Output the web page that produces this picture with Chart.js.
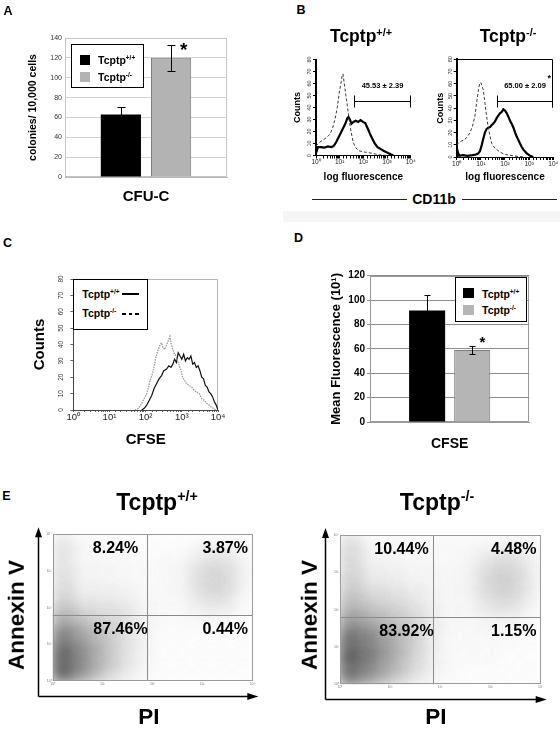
<!DOCTYPE html>
<html><head><meta charset="utf-8">
<script src="https://cdn.jsdelivr.net/npm/chart.js@4.4.1/dist/chart.umd.min.js"></script>
<style>
html,body{margin:0;padding:0;background:#fff;overflow:hidden;}
#root{position:relative;width:560px;height:729px;overflow:hidden;font-family:"Liberation Sans",Arial,Helvetica,sans-serif;color:#000;background:#fff;}
#root canvas{position:absolute;}
.t{position:absolute;transform:translate(-50%,-50%);white-space:nowrap;line-height:1;font-weight:bold;}
.t.r{transform:translate(-50%,-50%) rotate(-90deg);}
sup{font-size:62%;vertical-align:0.62em;line-height:0;}
.abs{position:absolute;}
.lt{position:absolute;font-weight:bold;line-height:1;white-space:nowrap;transform:translateY(-50%);}
</style></head><body><div id="root"></div>
<script>
// ---------------- DATA ----------------
const genotypeName = 'Tcptp';
const genotypeSup = ['+/+', '-/-'];

// A: CFU-C colonies / 10,000 cells
const cfuCategories = ['CFU-C'];
const cfuValues = [63, 120];
const cfuErrors = [8, 13];
const cfuTicks = [0, 20, 40, 60, 80, 100, 120, 140];

// B: CD11b histograms (x in decades of log fluorescence, y = counts)
const logTickLabels = ['10\u2070', '10\u00B9', '10\u00B2', '10\u00B3', '10\u2074'];
const countTicks = [0, 10, 20, 30, 40, 50, 60, 70, 80];
const cd11bWtLogX = [0, 0.08, 0.2, 0.35, 0.5, 0.65, 0.75, 0.85, 0.95, 1.05, 1.15, 1.25, 1.32, 1.37, 1.43, 1.5, 1.58, 1.68, 1.78, 1.88, 1.98, 2.08, 2.15, 2.22, 2.3, 2.38, 2.48, 2.6, 2.72, 2.85, 3.0, 3.15, 3.27];
const cd11bWtCounts = [2, 7, 7, 6.5, 7.5, 7, 8, 11, 15, 19, 23, 27, 31, 32, 30, 26.5, 28, 29, 28, 29.5, 28, 27, 24, 21, 17, 14, 10, 7, 5.5, 4, 2.5, 1, 0];
const cd11bWtIsoLogX = [0, 0.15, 0.3, 0.45, 0.6, 0.7, 0.8, 0.9, 0.98, 1.05, 1.1, 1.14, 1.18, 1.25, 1.32, 1.4, 1.48, 1.56, 1.65, 1.8, 2.0, 2.2, 2.45, 2.7, 3.0];
const cd11bWtIsoCounts = [8, 11, 13, 15, 18, 23, 30, 40, 52, 60, 66, 68, 62, 52, 42, 30, 20, 12, 7, 4, 3, 2.5, 1.5, 0.5, 0];
const cd11bKoLogX = [0, 0.03, 0.1, 0.25, 0.45, 0.65, 0.8, 0.9, 0.97, 1.04, 1.1, 1.17, 1.24, 1.31, 1.38, 1.44, 1.5, 1.58, 1.66, 1.73, 1.8, 1.87, 1.93, 2.0, 2.07, 2.14, 2.2, 2.28, 2.35, 2.42, 2.48, 2.55, 2.62, 2.7, 2.76, 2.83, 2.9, 3.04, 3.17];
const cd11bKoCounts = [8, 5, 1, 1.5, 1, 1.5, 2, 3, 5, 10, 15, 20, 23, 24, 24.5, 26, 27, 29, 32, 34, 36, 37, 39, 38, 36, 33, 30, 27, 24, 20, 17, 14, 11, 8, 6, 4.5, 3, 1, 0];
const cd11bKoIsoLogX = [0, 0.1, 0.2, 0.3, 0.42, 0.55, 0.65, 0.75, 0.83, 0.9, 0.95, 1.0, 1.05, 1.1, 1.17, 1.24, 1.3, 1.38, 1.45, 1.55, 1.66, 1.8, 2.0, 2.2, 2.5, 2.8];
const cd11bKoIsoCounts = [10, 12, 13, 14, 16, 20, 25, 33, 45, 55, 60, 61, 58, 55, 44, 33, 25, 17, 11, 8, 6, 4, 2, 1.5, 0.5, 0];
const cd11bGateStartLog = [1.62, 1.66];
const cd11bGateCount = [45.5, 46];
const cd11bGateLabels = ['45.53 \u00B1 2.39', '65.00 \u00B1 2.09'];

// C: CFSE histograms
const cfseWtLogX = [1.89, 1.96, 2.03, 2.1, 2.17, 2.23, 2.3, 2.37, 2.44, 2.5, 2.58, 2.64, 2.7, 2.75, 2.8, 2.85, 2.9, 2.95, 3.0, 3.05, 3.1, 3.15, 3.2, 3.25, 3.3, 3.35, 3.4, 3.45, 3.5, 3.55, 3.6, 3.65, 3.7, 3.75, 3.8, 3.85, 3.9, 3.95, 4.0];
const cfseWtCounts = [0, 1, 3, 6, 9, 13, 16, 19, 21, 24, 25, 27, 26, 28, 31, 29, 35, 33, 31, 34, 30, 32, 31, 33, 28, 29, 26, 27, 24, 20, 19, 15, 14, 11, 10, 8, 5, 3, 0];
const cfseKoLogX = [1.7, 1.8, 1.89, 1.96, 2.03, 2.08, 2.12, 2.17, 2.21, 2.25, 2.28, 2.32, 2.35, 2.4, 2.44, 2.48, 2.53, 2.58, 2.62, 2.67, 2.71, 2.75, 2.8, 2.84, 2.88, 2.93, 2.98, 3.02, 3.08, 3.13, 3.2, 3.27, 3.34, 3.41, 3.48, 3.55, 3.62, 3.69, 3.76, 3.82, 3.88, 3.93];
const cfseKoCounts = [0, 1, 4, 7, 10, 14, 18, 21, 24, 28, 32, 35, 37, 40, 41, 38, 37, 40, 42, 45, 40, 37, 34, 33, 30, 27, 24, 20, 18, 16, 15, 14, 12, 11, 10, 7, 6, 4, 3, 1.6, 1, 0];

// D: CFSE mean fluorescence (10^1)
const cfseCategories = ['CFSE'];
const cfseMeans = [91.5, 59];
const cfseErrors = [13, 3];
const cfseTicks = [0, 20, 40, 60, 80, 100, 120];

// E: Annexin V / PI quadrants
const annexinWtPct = ['8.24%', '3.87%', '87.46%', '0.44%'];   // UL, UR, LL, LR
const annexinKoPct = ['10.44%', '4.48%', '83.92%', '1.15%'];
const piGateLog = [1.88, 1.86];
const annexinGateLog = [1.8, 1.81];
// relative event density, rows = Annexin V decades 4->0 (0.5 each), cols = PI decades 0->4 (0.4 each)
const annexinWtDensity = [
  [0.10,0.03,0.03,0.03,0.02,0.02,0.02,0.03,0.04,0.03],
  [0.10,0.04,0.04,0.03,0.03,0.03,0.04,0.10,0.12,0.05],
  [0.12,0.05,0.05,0.04,0.03,0.03,0.05,0.14,0.16,0.06],
  [0.16,0.08,0.08,0.07,0.04,0.03,0.04,0.10,0.12,0.04],
  [0.30,0.18,0.14,0.12,0.05,0.03,0.03,0.04,0.04,0.02],
  [0.55,0.35,0.22,0.12,0.05,0.02,0.02,0.02,0.02,0.02],
  [0.70,0.45,0.26,0.12,0.05,0.02,0.02,0.02,0.02,0.02],
  [0.75,0.45,0.22,0.10,0.04,0.02,0.02,0.02,0.02,0.02]
];
const annexinKoDensity = [
  [0.14,0.04,0.04,0.03,0.03,0.03,0.03,0.04,0.05,0.04],
  [0.15,0.06,0.05,0.04,0.04,0.03,0.05,0.12,0.14,0.07],
  [0.18,0.09,0.08,0.06,0.05,0.04,0.06,0.16,0.18,0.08],
  [0.25,0.16,0.14,0.10,0.06,0.04,0.05,0.12,0.14,0.06],
  [0.40,0.30,0.22,0.16,0.08,0.04,0.04,0.05,0.05,0.03],
  [0.65,0.50,0.35,0.20,0.08,0.03,0.03,0.03,0.03,0.02],
  [0.75,0.55,0.35,0.18,0.07,0.03,0.03,0.03,0.02,0.02],
  [0.65,0.45,0.28,0.14,0.06,0.03,0.02,0.02,0.02,0.02]
];

// ---------------- HELPERS ----------------
const FONT = '"Liberation Sans", Arial, Helvetica, sans-serif';
Chart.defaults.font.family = FONT;
Chart.defaults.color = '#000';
const root = document.getElementById('root');
const gen = i => genotypeName + '<sup>' + genotypeSup[i] + '</sup>';
const pts = (xs, ys) => xs.map((d, i) => ({x: Math.pow(10, d), y: ys[i]}));
function logLabel(v) { const l = Math.log10(v), r = Math.round(l); return Math.abs(l - r) < 1e-6 ? logTickLabels[r] : ''; }
function densityPts(grid) {
  const out = [];
  grid.forEach((row, ri) => row.forEach((v, ci) => out.push({x: Math.pow(10, 0.2 + 0.4 * ci), y: Math.pow(10, 3.75 - 0.5 * ri), v})));
  return out;
}

function mk(box, plot, yw, xh, cfg) {
  const cv = document.createElement('canvas');
  cv.width = box.w; cv.height = box.h;
  cv.style.left = box.x + 'px'; cv.style.top = box.y + 'px';
  root.appendChild(cv);
  const o = cfg.options;
  o.responsive = false; o.animation = false; o.devicePixelRatio = 1; o.events = [];
  o.layout = {autoPadding: false, padding: {left: plot.l - box.x - yw, top: plot.t - box.y, right: box.x + box.w - plot.r, bottom: box.y + box.h - plot.b - xh}};
  o.plugins = Object.assign({legend: {display: false}, tooltip: {enabled: false}}, o.plugins || {});
  o.scales.x.afterFit = s => { s.height = xh; };
  o.scales.y.afterFit = s => { s.width = yw; };
  return new Chart(cv, cfg);
}
function txt(html, x, y, size, rot, weight) {
  const d = document.createElement('div');
  d.className = 't' + (rot ? ' r' : '');
  d.innerHTML = html;
  d.style.left = x + 'px'; d.style.top = y + 'px'; d.style.fontSize = size + 'px';
  if (weight) d.style.fontWeight = weight;
  root.appendChild(d);
}
function rect(x, y, w, h, style) {
  const d = document.createElement('div');
  d.className = 'abs';
  Object.assign(d.style, {left: x + 'px', top: y + 'px', width: w + 'px', height: h + 'px', boxSizing: 'border-box'}, style || {});
  root.appendChild(d);
  return d;
}
function ltxt(html, x, y, size) {
  const d = document.createElement('div');
  d.className = 'lt'; d.innerHTML = html;
  d.style.left = x + 'px'; d.style.top = y + 'px'; d.style.fontSize = size + 'px';
  root.appendChild(d);
}

// ---------------- PLUGINS ----------------
const framePlugin = {
  id: 'frame',
  beforeDatasetsDraw(chart, args, o) {
    if (!o || !o.color) return;
    const {ctx, chartArea: a} = chart;
    const s = o.sides || 'tlrb';
    const L = Math.round(a.left) + 0.5, R = Math.round(a.right) - 0.5, T = Math.round(a.top) + 0.5, B = Math.round(a.bottom) - 0.5;
    ctx.save(); ctx.strokeStyle = o.color; ctx.lineWidth = 1; ctx.beginPath();
    if (s.includes('t')) { ctx.moveTo(L, T); ctx.lineTo(R, T); }
    if (s.includes('r')) { ctx.moveTo(R, T); ctx.lineTo(R, B); }
    if (s.includes('b')) { ctx.moveTo(L, B); ctx.lineTo(R, B); }
    if (s.includes('l')) { ctx.moveTo(L, T); ctx.lineTo(L, B); }
    ctx.stroke(); ctx.restore();
  }
};
const errPlugin = {
  id: 'errbars',
  afterDatasetsDraw(chart, args, o) {
    if (!o || !o.errors) return;
    const {ctx} = chart, y = chart.scales.y;
    ctx.save(); ctx.strokeStyle = '#000'; ctx.lineWidth = 1;
    chart.data.datasets.forEach((ds, i) => {
      const el = chart.getDatasetMeta(i).data[0];
      const v = ds.data[0], e = o.errors[i];
      const x = Math.round(el.x) + 0.5, yt = Math.round(y.getPixelForValue(v + e)) + 0.5, yb = Math.round(y.getPixelForValue(v - e)) + 0.5;
      ctx.beginPath();
      ctx.moveTo(x, yt); ctx.lineTo(x, yb);
      ctx.moveTo(x - o.cap, yt); ctx.lineTo(x + o.cap, yt);
      ctx.moveTo(x - o.cap, yb); ctx.lineTo(x + o.cap, yb);
      ctx.stroke();
    });
    if (o.star) {
      const i = o.star.index, el = chart.getDatasetMeta(i).data[0];
      const v = chart.data.datasets[i].data[0] + o.errors[i];
      ctx.fillStyle = '#000'; ctx.font = 'bold ' + o.star.size + 'px ' + FONT;
      ctx.textAlign = 'center'; ctx.textBaseline = 'middle';
      ctx.fillText('*', el.x + o.star.dx, y.getPixelForValue(v) + o.star.dy);
    }
    ctx.restore();
  }
};
const gatePlugin = {
  id: 'gate',
  afterDatasetsDraw(chart, args, o) {
    if (!o || o.label === undefined) return;
    const {ctx, chartArea: a} = chart, x = chart.scales.x, y = chart.scales.y;
    const x0 = Math.round(x.getPixelForValue(Math.pow(10, o.startLog))) + 0.5;
    const x1 = Math.round(x.getPixelForValue(Math.pow(10, o.endLog))) - 0.5;
    const yy = Math.round(y.getPixelForValue(o.count)) + 0.5;
    ctx.save(); ctx.strokeStyle = '#000'; ctx.lineWidth = 1; ctx.beginPath();
    ctx.moveTo(x0, yy); ctx.lineTo(x1, yy);
    ctx.moveTo(x0, yy - 6); ctx.lineTo(x0, yy + 6);
    ctx.moveTo(x1, yy - 6); ctx.lineTo(x1, yy + 6);
    if (o.box) { ctx.moveTo(a.left, Math.round(a.top) + 0.5); ctx.lineTo(x1, Math.round(a.top) + 0.5); ctx.lineTo(x1, yy + 6); }
    ctx.stroke();
    ctx.fillStyle = '#000'; ctx.font = 'bold 7.5px ' + FONT; ctx.textAlign = 'center'; ctx.textBaseline = 'middle';
    const lx = (x0 + x1) / 2, ly = yy - 15.5;
    ctx.fillText(o.label, lx, ly);
    if (o.star) {
      const w = ctx.measureText(o.label).width;
      ctx.font = 'bold 9px ' + FONT;
      ctx.fillText('*', lx + w / 2 + 3.5, ly - 7);
    }
    ctx.restore();
  }
};
const blurPlugin = {
  id: 'blurDensity',
  beforeDatasetDraw(chart, args, o) {
    if (!o || !o.px || args.index !== 0) return;
    chart.ctx.save(); chart.ctx.filter = 'blur(' + o.px + 'px)';
  },
  afterDatasetDraw(chart, args, o) {
    if (!o || !o.px || args.index !== 0) return;
    chart.ctx.restore();
  }
};
const quadPlugin = {
  id: 'quad',
  afterDatasetsDraw(chart, args, o) {
    if (!o || !o.labels) return;
    const {ctx, chartArea: a} = chart, x = chart.scales.x, y = chart.scales.y;
    const gx = Math.round(x.getPixelForValue(Math.pow(10, o.xGateLog))) + 0.5;
    const gy = Math.round(y.getPixelForValue(Math.pow(10, o.yGateLog))) + 0.5;
    ctx.save();
    ctx.strokeStyle = '#8a8a8a'; ctx.lineWidth = 1; ctx.beginPath();
    ctx.moveTo(gx, a.top); ctx.lineTo(gx, a.bottom);
    ctx.moveTo(a.left, gy); ctx.lineTo(a.right, gy);
    ctx.stroke();
    ctx.strokeStyle = '#9a9a9a';
    ctx.strokeRect(Math.round(a.left) + 0.5, Math.round(a.top) + 0.5, Math.round(a.right - a.left) - 1, Math.round(a.bottom - a.top) - 1);
    // axis arrows
    const ax = Math.round(a.left - 15) + 0.5, ay = Math.round(a.bottom + 15) + 0.5;
    const topY = a.top - 7, rightX = a.right + 6;
    ctx.strokeStyle = '#000'; ctx.fillStyle = '#000'; ctx.lineWidth = 1.5;
    ctx.beginPath(); ctx.moveTo(ax, ay); ctx.lineTo(ax, topY + 8); ctx.moveTo(ax, ay); ctx.lineTo(rightX - 9, ay); ctx.stroke();
    ctx.beginPath(); ctx.moveTo(ax, topY); ctx.lineTo(ax - 3.5, topY + 10); ctx.lineTo(ax + 3.5, topY + 10); ctx.closePath(); ctx.fill();
    ctx.beginPath(); ctx.moveTo(rightX, ay); ctx.lineTo(rightX - 11, ay - 3.5); ctx.lineTo(rightX - 11, ay + 3.5); ctx.closePath(); ctx.fill();
    // quadrant percentages
    ctx.font = 'bold 16px ' + FONT; ctx.textAlign = 'center'; ctx.textBaseline = 'middle';
    const topRow = a.top + 14.5, lowRow = gy + 14;
    ctx.fillText(o.labels[0], gx - 32, topRow);
    ctx.fillText(o.labels[1], a.right - 27, topRow);
    ctx.fillText(o.labels[2], gx - 27, lowRow);
    ctx.fillText(o.labels[3], a.right - 27, lowRow);
    ctx.restore();
  }
};
Chart.register(framePlugin, errPlugin, gatePlugin, blurPlugin, quadPlugin);

// ---------------- PANEL A ----------------
mk({x: 0, y: 0, w: 280, h: 215}, {l: 65, t: 38, r: 227, b: 177}, 40, 30, {
  type: 'bar',
  data: {labels: cfuCategories, datasets: [
    {data: [cfuValues[0]], backgroundColor: '#000', borderWidth: 0},
    {data: [cfuValues[1]], backgroundColor: '#b3b3b3', borderColor: '#7c7c7c', borderWidth: 1}
  ]},
  options: {
    datasets: {bar: {barPercentage: 0.8, categoryPercentage: 0.62}},
    scales: {
      x: {grid: {display: false, drawTicks: false}, border: {color: '#b8b8b8'}, ticks: {font: {size: 15, weight: 'bold'}, color: '#000', padding: 10.5}},
      y: {min: 0, max: 140, afterBuildTicks: s => { s.ticks = cfuTicks.map(v => ({value: v})); },
          ticks: {font: {size: 7}, color: '#333', padding: 3},
          grid: {color: '#d2d2d2', drawTicks: false}, border: {color: '#b8b8b8'},
          title: {display: true, text: 'colonies/ 10,000 cells', font: {size: 10.5, weight: 'bold'}, color: '#000', padding: {top: 1.7, bottom: 0}}}
    },
    plugins: {frame: {color: '#c4c4c4'}, errbars: {errors: cfuErrors, cap: 4, star: {index: 1, dx: 12.5, dy: 6, size: 19}}}
  }
});
txt('A', 8, 11, 12.5);
rect(71, 44, 73, 44, {border: '1.5px solid #000', background: '#fff'});
rect(80, 54.5, 10, 10, {background: '#000'});
rect(80, 71.5, 10, 10, {background: '#b3b3b3'});
ltxt(gen(0), 98, 59.5, 10.5);
ltxt(gen(1), 98, 76.5, 10.5);

// ---------------- PANEL B ----------------
rect(283, 211, 277, 11, {background: '#f5f5f5'});
function bLogAxis() {
  return {type: 'logarithmic', min: 1, max: 10000,
    ticks: {autoSkip: false, minRotation: 0, maxRotation: 0, font: {size: 6.5}, color: '#222', padding: 0, callback: v => logLabel(v)},
    grid: {drawOnChartArea: false, tickLength: 3, color: '#000'}, border: {color: '#000', width: 1},
    title: {display: true, text: 'log fluorescence', font: {size: 10, weight: 'bold'}, color: '#000', padding: {top: 0, bottom: 0.5}}};
}
function bCountAxis(tpad) {
  return {min: 0, max: 80, afterBuildTicks: s => { s.ticks = countTicks.map(v => ({value: v})); },
    ticks: {autoSkip: false, minRotation: 90, maxRotation: 90, crossAlign: 'center', font: {size: 5.5}, color: '#333', padding: 0},
    grid: {drawOnChartArea: false, tickLength: 3, color: '#000'}, border: {color: '#000', width: 2},
    title: {display: true, text: 'Counts', font: {size: 9, weight: 'bold'}, color: '#000', padding: {top: tpad, bottom: 0}}};
}
mk({x: 285, y: 40, w: 140, h: 150}, {l: 316, t: 59.5, r: 410.7, b: 155.5}, 24, 28, {
  type: 'line',
  data: {datasets: [
    {data: pts(cd11bWtIsoLogX, cd11bWtIsoCounts), borderColor: '#3a3a3a', borderWidth: 1, borderDash: [3, 2]},
    {data: pts(cd11bWtLogX, cd11bWtCounts), borderColor: '#000', borderWidth: 2.2}
  ]},
  options: {
    elements: {point: {radius: 0}, line: {tension: 0}},
    scales: {x: bLogAxis(), y: bCountAxis(0.6)},
    plugins: {gate: {startLog: cd11bGateStartLog[0], endLog: 4, count: cd11bGateCount[0], label: cd11bGateLabels[0]}}
  }
});
mk({x: 425, y: 40, w: 135, h: 150}, {l: 456.7, t: 59.3, r: 553.3, b: 157}, 24, 26.5, {
  type: 'line',
  data: {datasets: [
    {data: pts(cd11bKoIsoLogX, cd11bKoIsoCounts), borderColor: '#3a3a3a', borderWidth: 1, borderDash: [3, 2]},
    {data: pts(cd11bKoLogX, cd11bKoCounts), borderColor: '#000', borderWidth: 2.2}
  ]},
  options: {
    elements: {point: {radius: 0}, line: {tension: 0}},
    scales: {x: bLogAxis(), y: bCountAxis(2)},
    plugins: {gate: {startLog: cd11bGateStartLog[1], endLog: 4, count: cd11bGateCount[1], label: cd11bGateLabels[1], star: true, box: true}}
  }
});
txt('B', 301, 10, 12.5);
txt(gen(0), 361, 37, 17.5);
txt(gen(1), 508, 37, 17.5);
txt('CD11b', 434, 199, 14);
rect(312, 198.5, 95, 1, {background: '#222'});
rect(462, 198.5, 95, 1, {background: '#222'});

// ---------------- PANEL C ----------------
mk({x: 0, y: 250, w: 280, h: 200}, {l: 73.3, t: 279, r: 218, b: 410}, 42.3, 40, {
  type: 'line',
  data: {datasets: [
    {data: pts(cfseKoLogX, cfseKoCounts), borderColor: '#9a9a9a', borderWidth: 1.3, borderDash: [1.5, 1]},
    {data: pts(cfseWtLogX, cfseWtCounts), borderColor: '#111', borderWidth: 1.2}
  ]},
  options: {
    elements: {point: {radius: 0}, line: {tension: 0}},
    scales: {
      x: {type: 'logarithmic', min: 1, max: 10000,
          ticks: {autoSkip: false, minRotation: 0, maxRotation: 0, font: {size: 9.5}, color: '#222', padding: 0, callback: v => logLabel(v)},
          grid: {drawOnChartArea: false, tickLength: 2, color: '#666'}, border: {color: '#444'},
          title: {display: true, text: 'CFSE', font: {size: 15, weight: 'bold'}, color: '#000', padding: {top: 0, bottom: 1}}},
      y: {min: 0, max: 80, afterBuildTicks: s => { s.ticks = countTicks.map(v => ({value: v})); },
          ticks: {autoSkip: false, minRotation: 90, maxRotation: 90, crossAlign: 'center', font: {size: 6.5}, color: '#333', padding: 5.5},
          grid: {drawOnChartArea: false, tickLength: 3, color: '#666'}, border: {color: '#444'},
          title: {display: true, text: 'Counts', font: {size: 15, weight: 'bold'}, color: '#000', padding: {top: 0, bottom: 0}}}
    },
    plugins: {frame: {color: '#b4b4b4', sides: 'tr'}}
  }
});
txt('C', 7.5, 242.5, 12.5);
rect(73.3, 279.3, 74.4, 50.7, {border: '1.5px solid #000', background: '#fff'});
ltxt(gen(0), 82.3, 294, 10.5);
ltxt(gen(1), 82.3, 313.3, 10.5);
rect(122, 293, 16.5, 2, {background: '#000'});
rect(122, 313, 3.5, 1.5, {background: '#000'});
rect(128.5, 313, 3.5, 1.5, {background: '#000'});
rect(135, 313, 3.5, 1.5, {background: '#000'});

// ---------------- PANEL D ----------------
mk({x: 285, y: 250, w: 275, h: 210}, {l: 370, t: 275.7, r: 529.3, b: 422}, 41, 35, {
  type: 'bar',
  data: {labels: cfseCategories, datasets: [
    {data: [cfseMeans[0]], backgroundColor: '#000', borderWidth: 0},
    {data: [cfseMeans[1]], backgroundColor: '#b5b5b5', borderColor: '#7c7c7c', borderWidth: 1}
  ]},
  options: {
    datasets: {bar: {barPercentage: 0.8, categoryPercentage: 0.566}},
    scales: {
      x: {grid: {display: false, drawTicks: false}, border: {color: '#9a9a9a'}, ticks: {font: {size: 14, weight: 'bold'}, color: '#000', padding: 13.5}},
      y: {min: 0, max: 120, afterBuildTicks: s => { s.ticks = cfseTicks.map(v => ({value: v})); },
          ticks: {font: {size: 10, weight: 'bold'}, color: '#000', padding: 2},
          grid: {color: '#8c8c8c', tickLength: 3}, border: {color: '#9a9a9a'},
          title: {display: true, text: 'Mean Fluorescence (10\u00B9)', font: {size: 13, weight: 'bold'}, color: '#000', padding: {top: 0, bottom: 0}}}
    },
    plugins: {frame: {color: '#9a9a9a'}, errbars: {errors: cfseErrors, cap: 3, star: {index: 1, dx: 10.3, dy: -4, size: 15}}}
  }
});
txt('D', 298.5, 238, 12.5);
rect(455, 277.3, 72, 44.4, {border: '1.5px solid #000', background: '#fff'});
rect(463.3, 288.3, 11, 10, {background: '#000'});
rect(463.3, 305, 11, 10, {background: '#b5b5b5'});
ltxt(gen(0), 482, 293.5, 10.5);
ltxt(gen(1), 482, 310.2, 10.5);

// ---------------- PANEL E ----------------
function annexinChart(box, plot, density, pct, gi) {
  const tickAxis = () => ({type: 'logarithmic', min: 1, max: 10000,
    ticks: {autoSkip: false, minRotation: 0, maxRotation: 0, font: {size: 3.5}, color: '#777', padding: 1, callback: v => logLabel(v)},
    grid: {display: false, drawTicks: false}, border: {display: false}});
  mk(box, plot, 10, 10, {
    type: 'scatter',
    data: {datasets: [{
      data: densityPts(density),
      pointStyle: 'rect',
      pointBorderWidth: 0,
      pointRadius: c => { const xs = c.chart.scales.x; return (xs.getPixelForValue(Math.pow(10, 0.4)) - xs.getPixelForValue(1) + 2) / (2 * Math.SQRT1_2); },
      backgroundColor: c => 'rgba(25,25,25,' + (c.raw ? c.raw.v : 0) + ')',
      pointBackgroundColor: c => 'rgba(25,25,25,' + (c.raw ? c.raw.v : 0) + ')'
    }]},
    options: {
      scales: {x: tickAxis(), y: tickAxis()},
      plugins: {blurDensity: {px: 8}, quad: {xGateLog: piGateLog[gi], yGateLog: annexinGateLog[gi], labels: pct}}
    }
  });
}
annexinChart({x: 0, y: 505, w: 280, h: 224}, {l: 52.7, t: 534.3, r: 252.3, b: 681}, annexinWtDensity, annexinWtPct, 0);
annexinChart({x: 280, y: 505, w: 280, h: 224}, {l: 340, t: 535, r: 540.7, b: 684.3}, annexinKoDensity, annexinKoPct, 1);
txt('E', 6.5, 496, 12.5);
txt(gen(0), 157, 502, 23);
txt(gen(1), 437, 502, 23);
txt('Annexin V', 17, 615, 22.5, true);
txt('Annexin V', 310, 615, 22.5, true);
txt('PI', 149, 717, 22.5);
txt('PI', 436, 717, 22.5);
</script></body></html>
